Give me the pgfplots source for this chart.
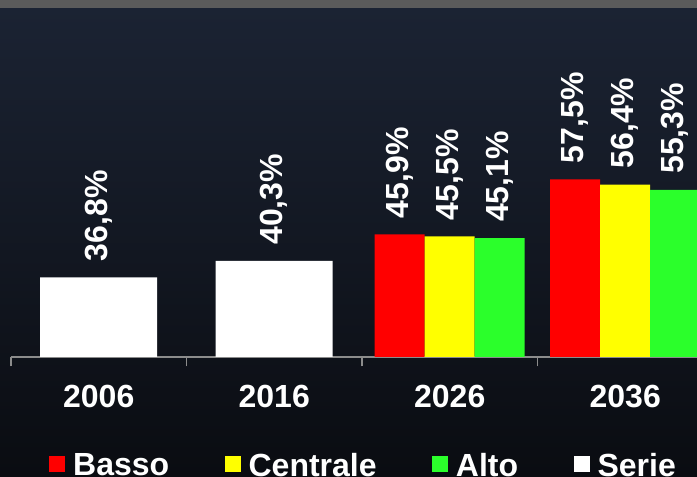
\documentclass[border=0pt]{standalone}
\usepackage{pgfplots}
\pgfplotsset{compat=1.18}
\usepackage{fontspec}
\setmainfont{Liberation Sans}

\definecolor{bgtop}{HTML}{1B2333}
\definecolor{bgbot}{HTML}{0A0C11}
\definecolor{topbar}{HTML}{5B5B5B}
\definecolor{axisgrey}{HTML}{8C8C8C}
\definecolor{cbasso}{HTML}{FF0000}
\definecolor{ccentr}{HTML}{FFFF00}
\definecolor{calto}{HTML}{2BFF2B}

\newcommand\bigbold{\fontsize{24}{28}\selectfont\bfseries}

\pgfplotsset{
  sq/.style={legend image code/.code={\fill[##1] (0pt,-4.75pt) rectangle (12pt,7.25pt);}},
}

\begin{document}
\begin{tikzpicture}
% picture is 697x477 px, 1 px = 0.75pt
\useasboundingbox (0,0) rectangle (522.75pt,357.75pt);
\clip (0,0) rectangle (522.75pt,357.75pt);
\shade[top color=bgtop, bottom color=bgbot] (0,0) rectangle (522.75pt,351.75pt);
\fill[topbar] (0,351.75pt) rectangle (522.75pt,357.75pt);

\begin{axis}[
    at={(8.25pt,90pt)}, anchor=south west,
    scale only axis, width=526.5pt, height=248.55pt,
    xmin=-0.5, xmax=3.5, ymin=20, ymax=90,
    axis x line*=bottom, axis y line=none,
    x axis line style={-, draw=axisgrey, line width=1.5pt},
    xtick={0,1,2,3}, xticklabels={2006,2016,2026,2036},
    major tick length=0pt,
    minor xtick={-0.5,0.5,1.5,2.5,3.5},
    minor tick length=7pt,
    tick align=outside,
    minor tick style={draw=axisgrey, line width=1.2pt},
    xticklabel style={font=\bigbold, text=white, anchor=base, yshift=-38pt},
    ybar,
    nodes near coords={\pgfmathprintnumber[fixed,fixed zerofill,precision=1,use comma]{\pgfplotspointmeta}\%},
    every node near coord/.append style={font=\bigbold, text=white, rotate=90, anchor=west, inner sep=0pt, xshift=12pt},
    /pgf/number format/assume math mode=true,
    legend columns=4,
    legend cell align=left,
    legend style={draw=none, fill=none, text=white, font=\bigbold,
        at={(axis description cs:0.0541,-0.281)}, anchor=north west, inner sep=0pt,
        /tikz/every odd column/.append style={column sep=4pt},
        /tikz/every even column/.append style={column sep=39.5pt}},
]
\addplot[sq, draw=none, fill=cbasso, bar width=37.5pt, bar shift=-37.5pt] coordinates {(2,45.9) (3,57.5)};
\addlegendentry{Basso}
\addplot[sq, draw=none, fill=ccentr, bar width=37.5pt, bar shift=0pt] coordinates {(2,45.5) (3,56.4)};
\addlegendentry{Centrale}
\addplot[sq, draw=none, fill=calto, bar width=37.5pt, bar shift=37.5pt] coordinates {(2,45.1) (3,55.3)};
\addlegendentry{Alto}
\addplot[sq, draw=none, fill=white, bar width=87.75pt, bar shift=0pt] coordinates {(0,36.8) (1,40.3)};
\addlegendentry{Serie}
\end{axis}
\end{tikzpicture}
\end{document}
